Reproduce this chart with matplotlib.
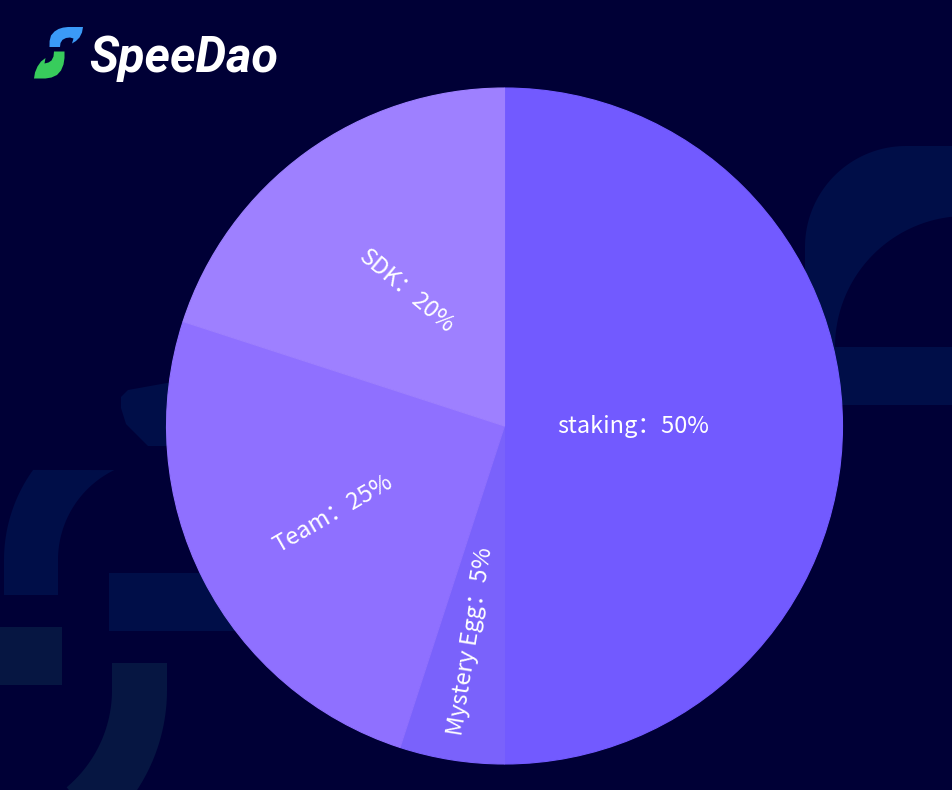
import numpy as np
import matplotlib.pyplot as plt
from matplotlib.patches import Polygon, Rectangle

# 数据
names = ['staking', 'Mystery Egg', 'Team', 'SDK']
shares = [50, 5, 25, 20]
slice_colors = ['#725aff', '#7a62fb', '#8f70ff', '#9e80ff']

# 标签位置（半径比例）和旋转角度
label_r = [0.38, 0.645, 0.57, 0.49]
label_rot = [0, 81, 30, -40]

plt.rcParams['font.family'] = ['Noto Sans CJK SC', 'DejaVu Sans']

W, H = 952, 790
BG = '#000036'
DECO1 = '#000e48'
DECO2 = '#061642'

fig = plt.figure(figsize=(W / 100, H / 100), dpi=100, facecolor=BG)

# 背景层，像素坐标，y 向下
bg = fig.add_axes([0, 0, 1, 1])
bg.set_xlim(0, W)
bg.set_ylim(H, 0)
bg.axis('off')
bg.set_facecolor(BG)


def arc(cx, cy, r, a0, a1, n=60):
    t = np.radians(np.linspace(a0, a1, n))
    return np.column_stack([cx + r * np.cos(t), cy + r * np.sin(t)])


# 右侧装饰
pts = np.vstack([[[805, 405]],
                 arc(906, 247, 101, 180, 270),
                 [[960, 146], [960, 217]],
                 arc(966, 347, 131, 263.9, 180),
                 [[960, 347], [960, 405]]])
bg.add_patch(Polygon(pts, closed=True, fc=DECO1, ec='none'))

# 左侧装饰
bg.add_patch(Polygon([(121, 397), (128, 390), (167, 383), (220, 383), (220, 446),
                      (148, 446), (126, 424), (121, 408)], closed=True, fc=DECO1, ec='none'))
pts = np.vstack([arc(158, 560, 154, 215.8, 180),
                 [[4, 595], [58, 595]],
                 arc(158, 560, 100, 180, 244.1)])
bg.add_patch(Polygon(pts, closed=True, fc=DECO1, ec='none'))
bg.add_patch(Rectangle((109, 573), 160, 58, fc=DECO1, ec='none'))
bg.add_patch(Rectangle((-5, 627), 67, 58, fc=DECO2, ec='none'))
pts = np.vstack([[[112, 663], [167, 663]],
                 arc(-15, 690, 182, 0, 50),
                 arc(-15, 690, 127, 50, 0)])
bg.add_patch(Polygon(pts, closed=True, fc=DECO2, ec='none'))

# logo 图标：两片叶子
blue = [(49.5, 47), (49.6, 41), (51, 35.5), (54.5, 31.5), (58.5, 29), (63, 27.6), (68, 27),
        (83, 27), (82, 32.5), (79.5, 37.5), (76, 41), (72, 43.5),
        (73.5, 38.5), (70, 37.5), (66, 38), (62.5, 39.8), (60.5, 43), (60, 47)]
green = [(54, 51.5), (64.5, 51.5), (64.5, 58), (63.5, 64.5), (61, 70.5), (57, 75), (51.5, 77.5),
         (45.5, 78.5), (34, 78.5), (35, 72.5), (37.5, 66.5), (41, 61.5), (45.5, 58),
         (44.5, 63.5), (48.5, 62.5), (51.5, 60.5), (53.5, 56.5)]
bg.add_patch(Polygon(blue, closed=True, fc='#3b9af7', ec='none'))
bg.add_patch(Polygon(green, closed=True, fc='#38cc5c', ec='none'))
bg.text(89, 71.5, 'SpeeDao', fontfamily='Roboto', fontweight='bold', fontstyle='italic',
        fontsize=35, color='white', ha='left', va='baseline')

# 饼图
cx, cy, R = 504.5, 426, 338
ax = fig.add_axes([(cx - R) / W, (H - cy - R) / H, 2 * R / W, 2 * R / H])
wedges, _ = ax.pie(shares, colors=slice_colors, startangle=90, counterclock=False, radius=1,
                   wedgeprops=dict(linewidth=0.8))
for w, c in zip(wedges, slice_colors):
    w.set_edgecolor(c)
ax.set_xlim(-1, 1)
ax.set_ylim(-1, 1)
ax.axis('off')

total = sum(shares)
start = 0
for name, v, r, rot in zip(names, shares, label_r, label_rot):
    mid = np.radians(90 - (start + v / 2) / total * 360)
    ax.text(r * np.cos(mid), r * np.sin(mid), f'{name}：{v}%', rotation=rot,
            rotation_mode='anchor', ha='center', va='center', color='white', fontsize=17)
    start += v

fig.savefig('out.png', dpi=100, facecolor=BG)
